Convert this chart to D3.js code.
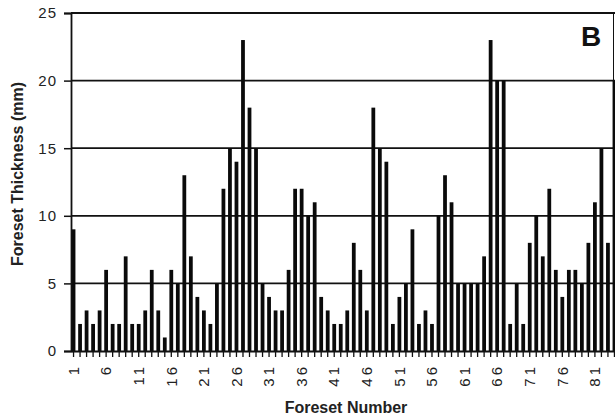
<!DOCTYPE html>
<html>
<head>
<meta charset="utf-8">
<script src="https://cdn.jsdelivr.net/npm/d3@7"></script>
<style>
  html, body { margin: 0; padding: 0; background: #fff; }
  svg { display: block; font-family: "Liberation Sans", Arial, Helvetica, sans-serif; }
</style>
</head>
<body>
<svg id="chart" width="615" height="418"></svg>
<script>
// ---- data ----
const foresetNumbers = d3.range(1, 85);
const thickness = [
  9, 2, 3, 2, 3, 6, 2, 2, 7, 2,
  2, 3, 6, 3, 1, 6, 5, 13, 7, 4,
  3, 2, 5, 12, 15, 14, 23, 18, 15, 5,
  4, 3, 3, 6, 12, 12, 10, 11, 4, 3,
  2, 2, 3, 8, 6, 3, 18, 15, 14, 2,
  4, 5, 9, 2, 3, 2, 10, 13, 11, 5,
  5, 5, 5, 7, 23, 20, 20, 2, 5, 2,
  8, 10, 7, 12, 6, 4, 6, 6, 5, 8,
  11, 15, 8, 20
];
const xTickLabels = [1, 6, 11, 16, 21, 26, 31, 36, 41, 46, 51, 56, 61, 66, 71, 76, 81];
const yTicks = [0, 5, 10, 15, 20, 25];
const xTitle = "Foreset Number";
const yTitle = "Foreset Thickness (mm)";
const panelLabel = "B";

// ---- layout ----
const svg = d3.select("#chart");
const mLeft = 71, mRight = 71 + 84 * 6.5, mTop = 13, mBottom = 351;

const x = d3.scaleBand()
  .domain(foresetNumbers)
  .range([mLeft, mRight])
  .paddingInner(0.42)
  .paddingOuter(0.1);

const y = d3.scaleLinear().domain([0, 25]).range([mBottom, mTop]);

// gridlines
svg.append("g")
  .selectAll("line")
  .data(yTicks.filter(d => d > 0))
  .join("line")
  .attr("x1", mLeft).attr("x2", 615)
  .attr("y1", d => y(d)).attr("y2", d => y(d))
  .attr("stroke", "#111").attr("stroke-width", 1.8);

// right frame edge
svg.append("line")
  .attr("x1", 613.5).attr("x2", 613.5)
  .attr("y1", y(25)).attr("y2", mBottom)
  .attr("stroke", "#111").attr("stroke-width", 1);

// bars
svg.append("g")
  .selectAll("rect")
  .data(foresetNumbers.map((n, i) => ({ n, v: thickness[i] })))
  .join("rect")
  .attr("x", d => x(d.n))
  .attr("width", x.bandwidth())
  .attr("y", d => y(d.v))
  .attr("height", d => mBottom - y(d.v))
  .attr("fill", "#0a0a0a");

// y axis
const yAxis = d3.axisLeft(y).tickValues(yTicks).tickSize(7).tickPadding(7).tickFormat(d3.format("d"));
const gy = svg.append("g").attr("transform", `translate(${mLeft},0)`).call(yAxis);
gy.select(".domain").attr("stroke", "#111").attr("stroke-width", 1.8);
gy.selectAll(".tick line").attr("stroke", "#111").attr("stroke-width", 1.5);
gy.selectAll(".tick text").attr("font-size", 15).attr("fill", "#222")
  .attr("font-family", "Liberation Sans, Arial, sans-serif").attr("letter-spacing", 1);

// x axis
const xAxis = d3.axisBottom(x).tickSize(6).tickSizeOuter(0)
  .tickFormat(d => xTickLabels.includes(d) ? d : "");
const gx = svg.append("g").attr("transform", `translate(0,${mBottom})`).call(xAxis);
gx.select(".domain").attr("stroke", "#111").attr("stroke-width", 2);
gx.selectAll(".tick line").attr("stroke", "#111").attr("stroke-width", 1.3);
gx.selectAll(".tick text")
  .attr("font-size", 15)
  .attr("letter-spacing", 3)
  .attr("fill", "#222")
  .attr("font-family", "Liberation Sans, Arial, sans-serif")
  .attr("text-anchor", "end")
  .attr("transform", "translate(0,13) rotate(-90)")
  .attr("x", 0).attr("y", 0).attr("dy", "0.35em");

// titles
svg.append("text")
  .attr("x", 346).attr("y", 413)
  .attr("text-anchor", "middle")
  .attr("font-size", 16).attr("font-weight", "bold").attr("fill", "#222")
  .text(xTitle);

svg.append("text")
  .attr("transform", "translate(23,174) rotate(-90)")
  .attr("text-anchor", "middle")
  .attr("font-size", 16).attr("font-weight", "bold").attr("fill", "#222")
  .text(yTitle);

svg.append("text")
  .attr("x", 591).attr("y", 46)
  .attr("text-anchor", "middle")
  .attr("font-size", 28).attr("font-weight", "bold").attr("fill", "#111")
  .text(panelLabel);
</script>
</body>
</html>
